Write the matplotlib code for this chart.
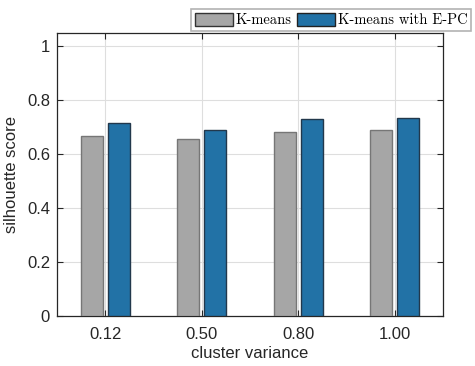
import numpy as np
import matplotlib.pyplot as plt
from matplotlib.patches import Patch

categorias = ['0.12', '0.50', '0.80', '1.00']
kmeans = [0.667, 0.658, 0.681, 0.689]
kmeans_epc = [0.715, 0.691, 0.730, 0.733]
rotulos_y = ['0', '0.2', '0.4', '0.6', '0.8', '1']

plt.rcParams['font.family'] = ['Liberation Sans', 'DejaVu Sans']

fig = plt.figure(figsize=(4.75, 3.66), dpi=100)
ax = fig.add_axes([0.12, 0.1366, 0.8126, 0.7732])

x = np.arange(1, len(categorias) + 1)
largura = 0.23
ax.bar(x - 0.14, kmeans, largura, color='#a6a6a6', edgecolor='#767676', linewidth=1, zorder=3)
ax.bar(x + 0.14, kmeans_epc, largura, color='#2272a6', edgecolor='#22384c', linewidth=1, zorder=3)

ax.set_xlim(0.5, 4.5)
ax.set_ylim(0, 1.05)
ax.set_xticks(x)
ax.set_xticklabels(categorias)
ax.set_yticks([0, 0.2, 0.4, 0.6, 0.8, 1.0])
ax.set_yticklabels(rotulos_y)
ax.tick_params(direction='in', length=4, width=0.8, labelsize=12, colors='#262626',
               top=True, right=True)
ax.tick_params(axis='x', pad=8)
ax.tick_params(axis='y', pad=5)
ax.grid(True, color='#dedede', linewidth=0.8, zorder=0)
for s in ax.spines.values():
    s.set_color('#262626')
    s.set_linewidth(0.9)

ax.set_xlabel('cluster variance', fontsize=12, color='#262626', labelpad=3)
ax.set_ylabel('silhouette score', fontsize=12, color='#262626', labelpad=6)

handles = [Patch(facecolor='#a6a6a6', edgecolor='#333333', label='K-means'),
           Patch(facecolor='#2272a6', edgecolor='#222222', label='K-means with E-PC')]
leg = fig.legend(handles=handles, loc='upper left', bbox_to_anchor=(0.402, 0.975), ncol=2,
                 prop={'family': 'cmr10', 'size': 10.5}, frameon=True, fancybox=False,
                 handlelength=2.6, handleheight=1.0, handletextpad=0.2, columnspacing=0.4,
                 borderpad=0.25, borderaxespad=0)
leg.get_frame().set_edgecolor('#a0a0a0')
leg.get_frame().set_linewidth(1.2)

fig.savefig('out.png', dpi=100)
